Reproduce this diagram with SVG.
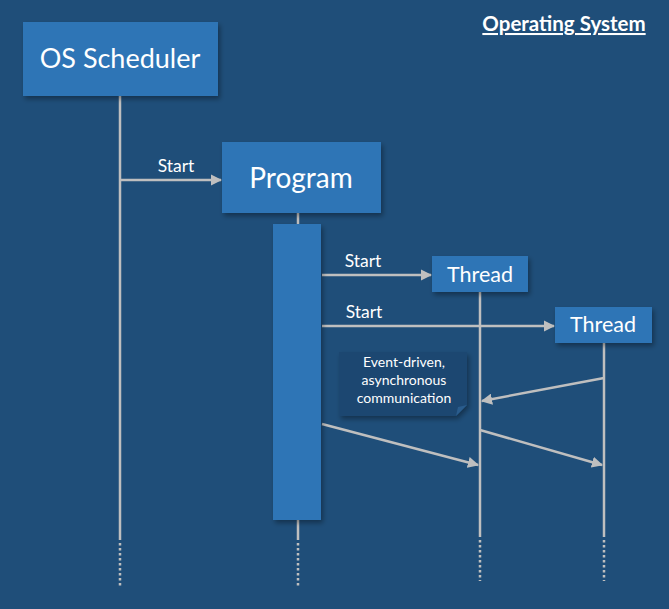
<svg xmlns="http://www.w3.org/2000/svg" width="669" height="609" viewBox="0 0 669 609">
<defs>
<style>
.box{fill:#2E75B6;filter:url(#sh)}
.lbl{font-family:Lato,"Open Sans","Liberation Sans",sans-serif;fill:#FFFFFF;text-anchor:middle}
.life{stroke:#BFBFBF;stroke-width:2.5;fill:none}
.dot{stroke:#BFBFBF;stroke-width:2.5;fill:none;stroke-dasharray:2.5 2.5}
.msg{stroke:#BFBFBF;stroke-width:2.5;fill:none;marker-end:url(#ah)}
.small{font-size:17.5px}
.note{font-size:14px}
</style>
<filter id="sh" x="-20%" y="-20%" width="150%" height="150%">
<feDropShadow dx="2" dy="3" stdDeviation="2.5" flood-color="#000000" flood-opacity="0.35"/>
</filter>
<marker id="ah" viewBox="0 0 10 10" refX="9" refY="5" markerWidth="4.5" markerHeight="4.5" orient="auto" markerUnits="strokeWidth">
<path d="M0,0 L10,5 L0,10 z" fill="#BFBFBF"/>
</marker>
</defs>
<rect x="0" y="0" width="669" height="609" fill="#1F4E79"/>

<g id="title">
<text x="564" y="31" class="lbl" style="font-weight:bold;font-size:20.5px;text-decoration:underline">Operating System</text>
</g>

<g id="connectors">
<line class="life" x1="120" y1="96" x2="120" y2="540"/>
<line class="dot" x1="120" y1="543" x2="120" y2="588"/>
<line class="life" x1="298" y1="213" x2="298" y2="226"/>
<line class="life" x1="298" y1="519" x2="298" y2="540"/>
<line class="dot" x1="298" y1="543" x2="298" y2="588"/>
<line class="life" x1="480" y1="292" x2="480" y2="537"/>
<line class="dot" x1="480" y1="540" x2="480" y2="581"/>
<line class="life" x1="604" y1="343" x2="604" y2="537"/>
<line class="dot" x1="604" y1="540" x2="604" y2="581"/>

<line class="msg" x1="120" y1="180" x2="221" y2="180"/>
<text x="176" y="172" class="lbl small">Start</text>
<line class="msg" x1="322" y1="275" x2="431" y2="275"/>
<text x="363" y="267" class="lbl small">Start</text>
<line class="msg" x1="322" y1="326" x2="554" y2="326"/>
<text x="364" y="318" class="lbl small">Start</text>
<line class="msg" x1="604" y1="378" x2="482" y2="401"/>
<line class="msg" x1="322" y1="424" x2="478" y2="465"/>
<line class="msg" x1="480" y1="430" x2="602" y2="465"/>
</g>

<g id="os-scheduler">
<rect class="box" x="23" y="22" width="195" height="74"/>
<text x="120" y="68" class="lbl" style="font-size:27px">OS Scheduler</text>
</g>

<g id="program">
<rect class="box" x="222" y="142" width="159" height="71"/>
<text x="301" y="188" class="lbl" style="font-size:28px">Program</text>
</g>

<g id="program-activation">
<rect class="box" x="273" y="224" width="48" height="296"/>
</g>

<g id="thread-1">
<rect class="box" x="432" y="256" width="96" height="36"/>
<text x="480" y="282" class="lbl" style="font-size:21.5px">Thread</text>
</g>

<g id="thread-2">
<rect class="box" x="555" y="307" width="97" height="36"/>
<text x="603" y="332" class="lbl" style="font-size:21.5px">Thread</text>
</g>

<g id="note">
<path d="M339,352 H467 V405 L456,416 H339 Z" fill="#1C4771" filter="url(#sh)"/>
<path d="M456,416 L458,407 L467,405 Z" fill="#2A5C8C"/>
<text class="lbl note" x="404" y="367">Event-driven,</text>
<text class="lbl note" x="404" y="385">asynchronous</text>
<text class="lbl note" x="404" y="403">communication</text>
</g>
</svg>
